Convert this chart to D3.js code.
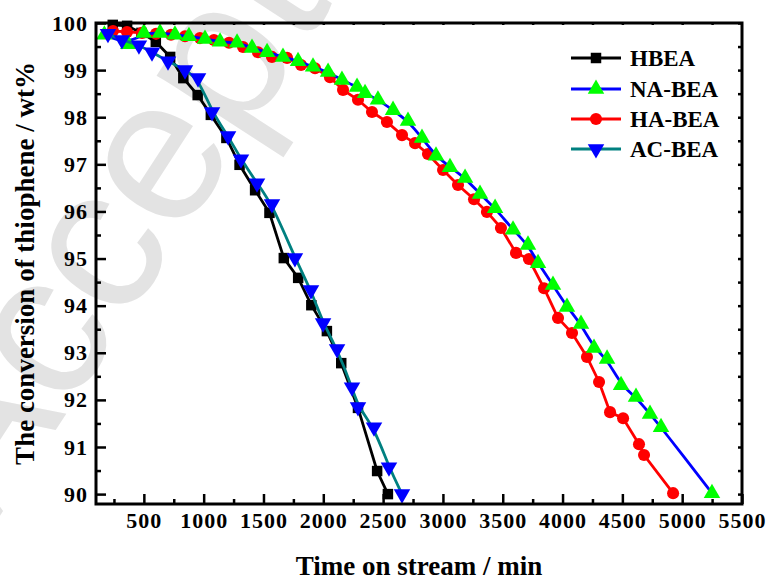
<!DOCTYPE html>
<html>
<head>
<meta charset="utf-8">
<script src="https://cdn.jsdelivr.net/npm/d3@7"></script>
<style>
  body { margin: 0; background: #fff; }
  svg { display: block; }
  text { font-family: "Liberation Serif", "Times New Roman", serif; font-weight: bold; }
</style>
</head>
<body>
<svg width="770" height="582"></svg>
<script>
// data (time on stream in min, conversion in wt%)
var hbeaTime = [240, 360, 480, 600, 720, 830, 950, 1060, 1190, 1300, 1430, 1550, 1670, 1790, 1900, 2030, 2150, 2290, 2450, 2540];
var hbeaConv = [99.96, 99.94, 99.79, 99.60, 99.28, 98.83, 98.47, 98.05, 97.56, 96.99, 96.45, 95.97, 95.01, 94.59, 94.01, 93.46, 92.78, 91.83, 90.49, 90.00];

var naTime = [170, 370, 500, 635, 760, 877, 1011, 1137, 1279, 1404, 1530, 1663, 1789, 1914, 2040, 2156, 2282, 2349, 2457, 2583, 2708, 2825, 2942, 3059, 3185, 3310, 3436, 3586, 3711, 3795, 3920, 4037, 4154, 4263, 4372, 4489, 4614, 4731, 4823, 5249];
var naConv = [99.75, 99.55, 99.79, 99.79, 99.75, 99.72, 99.66, 99.60, 99.58, 99.47, 99.38, 99.28, 99.19, 99.07, 98.96, 98.79, 98.64, 98.51, 98.37, 98.15, 97.92, 97.56, 97.18, 96.94, 96.71, 96.37, 96.07, 95.61, 95.29, 94.90, 94.44, 93.97, 93.61, 93.10, 92.87, 92.31, 92.06, 91.70, 91.42, 90.02];

var haTime = [242, 359, 485, 602, 727, 844, 969, 1086, 1212, 1329, 1454, 1571, 1697, 1814, 1931, 2056, 2165, 2290, 2407, 2532, 2658, 2767, 2875, 3001, 3126, 3260, 3368, 3485, 3611, 3719, 3845, 3962, 4079, 4204, 4305, 4397, 4506, 4639, 4681, 4924];
var haConv = [99.83, 99.81, 99.79, 99.77, 99.75, 99.72, 99.68, 99.64, 99.58, 99.49, 99.38, 99.28, 99.26, 99.11, 99.04, 98.85, 98.58, 98.37, 98.11, 97.90, 97.62, 97.45, 97.22, 96.88, 96.56, 96.26, 95.99, 95.65, 95.12, 94.99, 94.37, 93.74, 93.42, 92.91, 92.38, 91.74, 91.61, 91.06, 90.83, 90.02];

var acTime = [200, 317, 459, 568, 702, 844, 953, 1070, 1204, 1312, 1446, 1571, 1763, 1897, 1998, 2115, 2240, 2290, 2424, 2549, 2658];
var acConv = [99.77, 99.64, 99.53, 99.38, 99.19, 99.00, 98.83, 98.11, 97.60, 97.11, 96.60, 96.16, 95.01, 94.33, 93.63, 93.08, 92.27, 91.85, 91.42, 90.57, 90.00];

var xTicks = [500, 1000, 1500, 2000, 2500, 3000, 3500, 4000, 4500, 5000, 5500];
var yTicks = [90, 91, 92, 93, 94, 95, 96, 97, 98, 99, 100];

var svg = d3.select("svg");
var plotLeft = 96, plotRight = 742, plotTop = 23, plotBottom = 504;

var x = d3.scaleLinear().domain([100, 5500]).range([plotLeft, plotRight]);
var y = d3.scaleLinear().domain([89.79, 100]).range([plotBottom, plotTop]);

// faint watermark behind the plot
svg.append("text")
  .attr("transform", "translate(-8,528) rotate(-57)")
  .attr("font-size", "205px")
  .style("font-family", "'Liberation Sans', Arial, sans-serif")
  .style("font-weight", "normal")
  .attr("fill", "#e3e3e3")
  .text("Accepted");

function zip(t, v) {
  return t.map(function (d, i) { return { t: d, v: v[i] }; });
}

var series = [
  { name: "HBEA", data: zip(hbeaTime, hbeaConv), line: "#000000", fill: "#000000", shape: "square", curve: d3.curveLinear },
  { name: "HA-BEA", data: zip(haTime, haConv), line: "#ff0000", fill: "#ff0000", shape: "circle", curve: d3.curveLinear },
  { name: "NA-BEA", data: zip(naTime, naConv), line: "#0000ff", fill: "#00ff00", shape: "up", curve: d3.curveBasis },
  { name: "AC-BEA", data: zip(acTime, acConv), line: "#008080", fill: "#0000ff", shape: "down", curve: d3.curveBasis }
];

function symbolPath(shape) {
  if (shape == "square") return d3.symbol(d3.symbolSquare, 110)();
  if (shape == "circle") return d3.symbol(d3.symbolCircle, 115)();
  return d3.symbol(d3.symbolTriangle, 118)();
}

function markerTransform(shape, px, py) {
  var s = "translate(" + px + "," + py + ")";
  if (shape == "down") s += " rotate(180)";
  return s;
}

var plot = svg.append("g");

series.forEach(function (s) {
  var line = d3.line()
    .x(function (d) { return x(d.t); })
    .y(function (d) { return y(d.v); })
    .curve(s.curve);

  plot.append("path")
    .datum(s.data)
    .attr("d", line)
    .attr("fill", "none")
    .attr("stroke", s.line)
    .attr("stroke-width", 2.8);

  plot.selectAll(".m-" + s.shape)
    .data(s.data)
    .enter()
    .append("path")
    .attr("class", "m-" + s.shape)
    .attr("d", symbolPath(s.shape))
    .attr("transform", function (d) { return markerTransform(s.shape, x(d.t), y(d.v)); })
    .attr("fill", s.fill);
});

// axes, ticks pointing inward
var xAxis = d3.axisBottom(x).tickValues(xTicks).tickFormat(d3.format("d")).tickSize(-10).tickSizeOuter(0).tickPadding(8);
var xMinor = d3.axisBottom(x).tickValues(d3.range(250, 5500, 500)).tickSize(-5).tickSizeOuter(0).tickFormat("");
var yAxis = d3.axisLeft(y).tickValues(yTicks).tickFormat(d3.format("d")).tickSize(-10).tickSizeOuter(0).tickPadding(8);
var yMinor = d3.axisLeft(y).tickValues(d3.range(90.5, 100, 1)).tickSize(-5).tickSizeOuter(0).tickFormat("");
var yRight = d3.axisRight(y).tickValues(d3.range(90, 100.01, 0.5)).tickSize(-4).tickSizeOuter(0).tickFormat("");
var xTop = d3.axisTop(x).tickValues(d3.range(250, 5500, 250)).tickSize(-2).tickSizeOuter(0).tickFormat("");

function styleAxis(g) {
  g.select(".domain").remove();
  g.selectAll(".tick line").attr("stroke", "#000").attr("stroke-width", 2.5);
  g.selectAll(".tick text").attr("font-size", "22px").attr("fill", "#000")
    .style("font-family", "'Liberation Serif', 'Times New Roman', serif")
    .style("font-weight", "bold")
    .style("letter-spacing", "1px");
}

svg.append("g").attr("transform", "translate(0," + plotBottom + ")").call(xMinor).call(styleAxis);
svg.append("g").attr("transform", "translate(0," + plotBottom + ")").call(xAxis).call(styleAxis);
svg.append("g").attr("transform", "translate(" + plotLeft + ",0)").call(yMinor).call(styleAxis);
svg.append("g").attr("transform", "translate(" + plotLeft + ",0)").call(yAxis).call(styleAxis);
svg.append("g").attr("transform", "translate(" + plotRight + ",0)").call(yRight).call(styleAxis);
svg.append("g").attr("transform", "translate(0," + plotTop + ")").call(xTop).call(styleAxis);

// frame round the plot
svg.append("rect")
  .attr("x", plotLeft)
  .attr("y", plotTop)
  .attr("width", plotRight - plotLeft)
  .attr("height", plotBottom - plotTop)
  .attr("fill", "none")
  .attr("stroke", "#000")
  .attr("stroke-width", 3);

// axis titles
svg.append("text")
  .attr("x", (plotLeft + plotRight) / 2)
  .attr("y", 575)
  .attr("text-anchor", "middle")
  .attr("font-size", "27px")
  .text("Time on stream / min");

svg.append("text")
  .attr("transform", "translate(34," + (plotTop + plotBottom) / 2 + ") rotate(-90)")
  .attr("text-anchor", "middle")
  .attr("font-size", "27px")
  .text("The conversion of thiophene / wt%");

// legend, in the order of the reference
var legendOrder = ["HBEA", "NA-BEA", "HA-BEA", "AC-BEA"];
var legendY = [58, 89, 119, 149];
var legend = svg.append("g");

legendOrder.forEach(function (name, i) {
  var s = series.filter(function (d) { return d.name == name; })[0];
  var ly = legendY[i];
  legend.append("line")
    .attr("x1", 571).attr("x2", 621)
    .attr("y1", ly).attr("y2", ly)
    .attr("stroke", s.line)
    .attr("stroke-width", 2.8);
  legend.append("path")
    .attr("d", symbolPath(s.shape))
    .attr("transform", markerTransform(s.shape, 596, ly))
    .attr("fill", s.fill);
  legend.append("text")
    .attr("x", 630)
    .attr("y", ly + 8)
    .attr("font-size", "23px")
    .text(name);
});
</script>
</body>
</html>
